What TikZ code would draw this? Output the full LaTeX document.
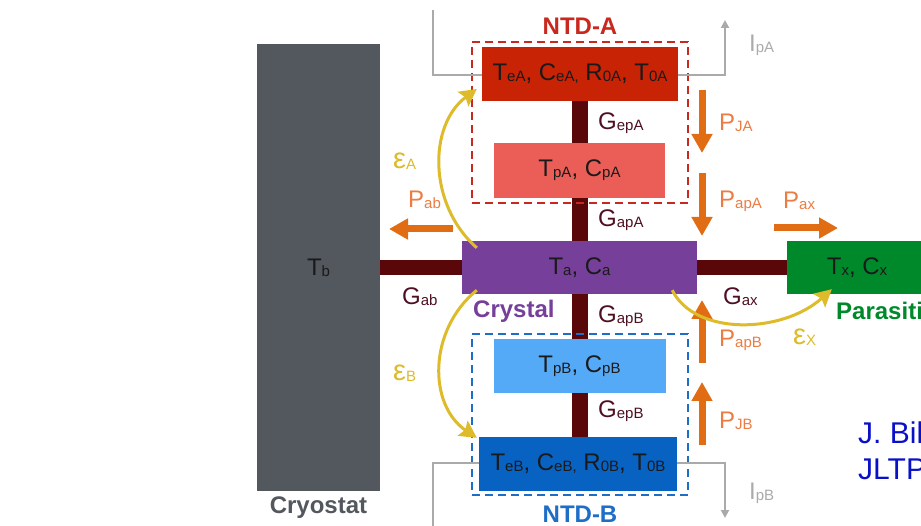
\documentclass[tikz,border=0pt]{standalone}
\usepackage{fontspec}
\setmainfont{Liberation Sans}
\usetikzlibrary{arrows.meta}
\newcommand\lsub[1]{\raisebox{-1pt}{\fontsize{15}{15}\selectfont #1}}
\definecolor{cryo}{HTML}{53575E}
\definecolor{bar}{HTML}{5A0709}
\definecolor{eAcol}{HTML}{C82305}
\definecolor{pAcol}{HTML}{EB5E58}
\definecolor{crys}{HTML}{763F9A}
\definecolor{para}{HTML}{00892B}
\definecolor{pBcol}{HTML}{55AAF8}
\definecolor{eBcol}{HTML}{0862C2}
\definecolor{txt}{HTML}{1A1A1A}
\definecolor{gcol}{HTML}{4E1020}
\definecolor{pcol}{HTML}{E06C14}
\definecolor{plab}{HTML}{EC7C42}
\definecolor{ycol}{HTML}{DDBB2A}
\definecolor{wire}{HTML}{AAAAAA}
\definecolor{ntdred}{HTML}{C8281E}
\definecolor{ntdblue}{HTML}{1E6EC8}
\definecolor{ref}{HTML}{0A10C8}
\begin{document}
\begin{tikzpicture}[x=1pt,y=-1pt,
  box/.style={draw=none,inner sep=0pt,font=\fontsize{24}{28}\selectfont,text=txt},
  gbar/.style={draw=bar,line width=16pt},
  hbar/.style={draw=bar,line width=15pt},
  ntd/.style={draw=#1,line width=2pt,dash pattern=on 8pt off 5pt,inner sep=0pt,fill=none},
  glab/.style={anchor=west,inner sep=0pt,font=\fontsize{24}{28}\selectfont,text=gcol},
  plabel/.style={anchor=west,inner sep=0pt,font=\fontsize{24}{28}\selectfont,text=plab},
  elab/.style={anchor=west,inner sep=0pt,font=\fontsize{29}{30}\selectfont,text=ycol},
  ilab/.style={anchor=west,inner sep=0pt,font=\fontsize{24}{28}\selectfont,text=wire},
  title/.style={inner sep=0pt,font=\fontsize{24}{28}\selectfont\bfseries},
  parrow/.style={draw=pcol,line width=7pt,-{Triangle[width=20pt,length=19pt]}},
  yarrow/.style={draw=ycol,line width=3pt,-{Stealth[width=18pt,length=17pt,inset=3pt]}},
  wirestyle/.style={draw=wire,line width=2pt},
  wirearrow/.style={draw=wire,line width=2pt,-{Triangle[width=8pt,length=8pt]}},
  reftext/.style={anchor=base west,inner sep=0pt,font=\fontsize{30}{34}\selectfont,text=ref}]
\useasboundingbox (0,0) rectangle (921,526);
\clip (0,0) rectangle (921,526);

% boxes
\node[box,fill=cryo,minimum width=123pt,minimum height=447pt] (cryo) at (318.5,267.5) {T\lsub{b}};
\node[box,fill=crys,minimum width=235pt,minimum height=53pt] (crystal) at (579.5,267.5) {T\lsub{a}, C\lsub{a}};
\node[box,fill=para,minimum width=140pt,minimum height=53pt] (para) at (857,267.5) {T\lsub{x}, C\lsub{x}};
\node[box,fill=eAcol,minimum width=196pt,minimum height=54pt] (eA) at (580,74) {T\lsub{eA}, C\lsub{eA,} R\lsub{0A}, T\lsub{0A}};
\node[box,fill=pAcol,minimum width=171pt,minimum height=55pt] (pA) at (579.5,170.5) {T\lsub{pA}, C\lsub{pA}};
\node[box,fill=pBcol,minimum width=172pt,minimum height=54pt] (pB) at (579.5,366) {T\lsub{pB}, C\lsub{pB}};
\node[box,fill=eBcol,minimum width=198pt,minimum height=54pt] (eB) at (578,464) {T\lsub{eB}, C\lsub{eB,} R\lsub{0B}, T\lsub{0B}};

% thermal links
\draw[hbar] (cryo.east) -- (crystal.west);
\draw[hbar] (crystal.east) -- (para.west);
\draw[gbar] (pA.north |- eA.south) -- (pA.north);
\draw[gbar] (pA.south) -- (crystal.north);
\draw[gbar] (crystal.south) -- (pB.north);
\draw[gbar] (pB.south) -- (pB.south |- eB.north);

% NTD dashed boxes
\node[ntd=ntdred,minimum width=216pt,minimum height=161pt] (ntdA) at (580,122.5) {};
\node[ntd=ntdblue,minimum width=216pt,minimum height=161pt] (ntdB) at (580,414.5) {};
\node[title,text=ntdred] (ntdAlab) at (580,26) {NTD-A};
\node[title,text=ntdblue] (ntdBlab) at (580,514) {NTD-B};
\node[title,text=cryo] (cryolab) at (318.5,508) {Cryostat};
\node[title,text=crys,anchor=west] (cryslab) at (473,311) {Crystal};
\node[title,text=para,anchor=west] (paralab) at (836,311) {Parasitic};

% bias wires
\coordinate (wA) at (433,10);
\coordinate (iAtip) at (725,20);
\coordinate (wB) at (433,530);
\coordinate (iBtip) at (725,518);
\draw[wirestyle] (wA) |- ([yshift=-1pt]eA.west);
\draw[wirearrow] ([yshift=-1pt]eA.east) -| (iAtip);
\draw[wirestyle] (wB) |- ([yshift=1pt]eB.west);
\draw[wirearrow] ([yshift=1pt]eB.east) -| (iBtip);
\node[ilab] (IpA) at (749,45) {I\lsub{pA}};
\node[ilab] (IpB) at (749,493) {I\lsub{pB}};

% conductance labels
\node[glab] (GepA) at (598,123) {G\lsub{epA}};
\node[glab] (GapA) at (598,220) {G\lsub{apA}};
\node[glab] (GapB) at (598,316) {G\lsub{apB}};
\node[glab] (GepB) at (598,411) {G\lsub{epB}};
\node[glab] (Gab) at (402,297) {G\lsub{ab}};
\node[glab] (Gax) at (723,297) {G\lsub{ax}};

% power arrows
\coordinate (pja1) at (702,90);  \coordinate (pja2) at (702,153);
\coordinate (ppa1) at (702,173); \coordinate (ppa2) at (702,236);
\coordinate (pax1) at (774,228); \coordinate (pax2) at (838,228);
\coordinate (pab1) at (453,229); \coordinate (pab2) at (389,229);
\coordinate (ppb1) at (702,363); \coordinate (ppb2) at (702,300);
\coordinate (pjb1) at (702,445); \coordinate (pjb2) at (702,382);
\draw[parrow] (pja1) -- (pja2);
\draw[parrow] (ppa1) -- (ppa2);
\draw[parrow] (pax1) -- (pax2);
\draw[parrow] (pab1) -- (pab2);
\draw[parrow] (ppb1) -- (ppb2);
\draw[parrow] (pjb1) -- (pjb2);
\node[plabel] (PJA) at (719,123) {P\lsub{JA}};
\node[plabel] (PapA) at (719,201) {P\lsub{apA}};
\node[plabel] (Pax) at (783,201) {P\lsub{ax}};
\node[plabel] (Pab) at (408,200) {P\lsub{ab}};
\node[plabel] (PapB) at (719,340) {P\lsub{apB}};
\node[plabel] (PJB) at (719,421) {P\lsub{JB}};

% radiation / particle sharing arrows
\draw[yarrow] ([shift={(15,7)}]crystal.north west) .. controls (428,205) and (428,125) .. ([shift={(-5,15)}]eA.west);
\draw[yarrow] ([shift={(15,-4)}]crystal.south west) .. controls (428,330) and (428,405) .. ([shift={(-2,1)}]eB.north west);
\draw[yarrow] ([shift={(-25,-4)}]crystal.south east) .. controls (695,336) and (782,334) .. ([shift={(45,-5)}]para.south west);
\node[elab] (epsA) at (393,161) {ε\lsub{A}};
\node[elab] (epsB) at (393,373) {ε\lsub{B}};
\node[elab] (epsX) at (793,337) {ε\lsub{X}};

% reference
\node[reftext] (ref1) at (858,443) {J. Billard};
\node[reftext] (ref2) at (858,479) {JLTP};
\end{tikzpicture}
\end{document}
